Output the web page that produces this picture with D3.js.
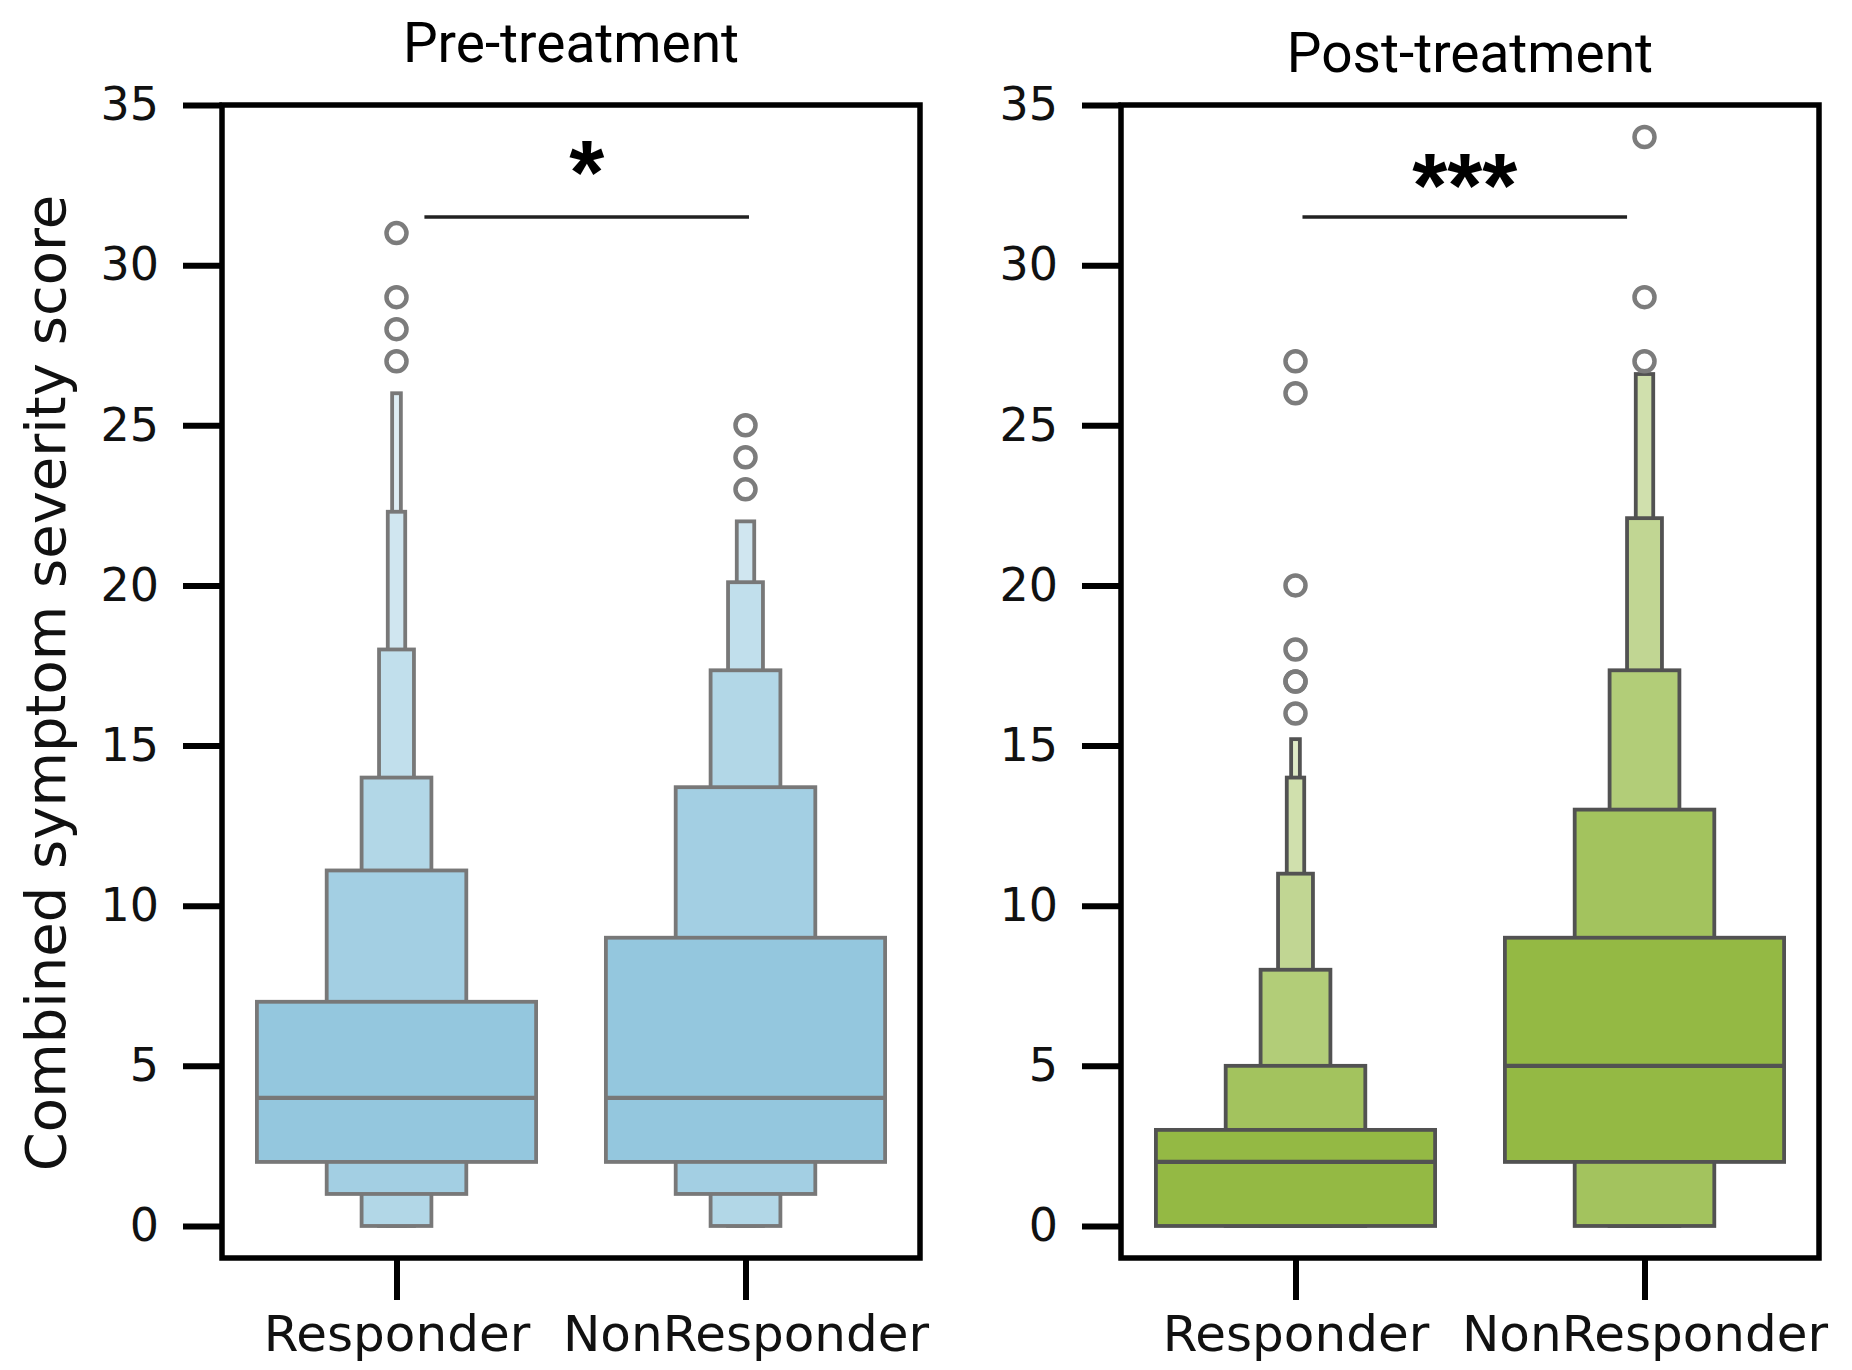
<!DOCTYPE html>
<html>
<head>
<meta charset="utf-8">
<script src="https://cdn.jsdelivr.net/npm/d3@7"></script>
<style>
  body { margin: 0; background: #fff; }
</style>
</head>
<body>
<div class="container"></div>
<script>
const categories = ["Responder", "NonResponder"];
const panelTitles = ["Pre-treatment", "Post-treatment"];
const yTicks = [0, 5, 10, 15, 20, 25, 30, 35];

// letter-value boxes [low, high], widest box first
const preResponderBoxes = [[2, 7], [1, 11.1], [0, 14], [0, 18], [0, 22.3], [0, 26]];
const preNonResponderBoxes = [[2, 9], [1, 13.7], [0, 17.35], [0, 20.1], [0, 22]];
const postResponderBoxes = [[0, 3], [0, 5], [0, 8], [0, 11], [0, 14], [0, 15.2]];
const postNonResponderBoxes = [[2, 9], [0, 13], [0, 17.35], [0, 22.1], [0, 26.6]];

const preMedians = [4, 4];
const postMedians = [2, 5];

const preOutliers = [[27, 28, 29, 31], [23, 24, 25]];
const postOutliers = [[16, 17, 17, 18, 20, 26, 27], [27, 29, 34]];

const sigLabels = ["*", "***"];
const sigBarValue = [31.5, 31.5];
const sigBarSpan = [[0.08, 1.01], [0.02, 0.95]];

const W = 1852, H = 1370;
const plotTop = 105, plotBottom = 1258;
const panelLeft = [222, 1121];
const panelWidth = 698;

const svg = d3.select(".container")
  .append("svg")
  .attr("width", W)
  .attr("height", H)
  .style("font-family", "'DejaVu Sans', sans-serif");

const y = d3.scaleLinear().domain([-1, 35]).range([plotBottom, plotTop]);

const panels = [
  {title: panelTitles[0], boxes: [preResponderBoxes, preNonResponderBoxes], medians: preMedians,
   outliers: preOutliers, base: "#94c7de", edge: "#787878", titleY: 62},
  {title: panelTitles[1], boxes: [postResponderBoxes, postNonResponderBoxes], medians: postMedians,
   outliers: postOutliers, base: "#94b944", edge: "#525252", titleY: 72}
];

panels.forEach((p, pi) => {
  const g = svg.append("g")
    .attr("transform", `translate(${panelLeft[pi]},0)`);

  const x = d3.scalePoint().domain(categories).range([0, panelWidth]).padding(0.5);
  const xi = d3.scaleLinear().domain([-0.5, 1.5]).range([0, panelWidth]);
  const step = x.step();

  // boxes, narrowest first so wider ones sit on top
  categories.forEach((c, ci) => {
    const boxes = p.boxes[ci];
    const cx = x(c);
    for (let k = boxes.length - 1; k >= 0; k--) {
      const w = 0.8 * step * Math.pow(2, -k);
      const fill = d3.interpolateRgb(p.base, "#ffffff")(k * 0.14);
      g.append("rect")
        .attr("x", cx - w / 2)
        .attr("y", y(boxes[k][1]))
        .attr("width", w)
        .attr("height", y(boxes[k][0]) - y(boxes[k][1]))
        .attr("fill", fill)
        .attr("stroke", p.edge)
        .attr("stroke-width", 3.8);
    }
    const w0 = 0.8 * step;
    g.append("line")
      .attr("x1", cx - w0 / 2).attr("x2", cx + w0 / 2)
      .attr("y1", y(p.medians[ci])).attr("y2", y(p.medians[ci]))
      .attr("stroke", p.edge)
      .attr("stroke-width", 4.2);

    g.selectAll(null)
      .data(p.outliers[ci])
      .enter()
      .append("circle")
      .attr("cx", cx)
      .attr("cy", d => y(d))
      .attr("r", 10)
      .attr("fill", "none")
      .attr("stroke", "#7c7c7c")
      .attr("stroke-width", 4.5);
  });

  // frame
  g.append("rect")
    .attr("x", 0).attr("y", plotTop)
    .attr("width", panelWidth).attr("height", plotBottom - plotTop)
    .attr("fill", "none")
    .attr("stroke", "#000")
    .attr("stroke-width", 5.5);

  const yAxis = d3.axisLeft(y).tickValues(yTicks).tickSize(39).tickPadding(24);
  const drawY = g.append("g").call(yAxis);
  drawY.select(".domain").remove();
  drawY.selectAll(".tick line").attr("stroke", "#000").attr("stroke-width", 6);
  drawY.selectAll(".tick text")
    .attr("fill", "#111")
    .style("font-family", "'DejaVu Sans', sans-serif")
    .style("font-size", "46px");

  const xAxis = d3.axisBottom(x).tickSize(42);
  const drawX = g.append("g")
    .attr("transform", `translate(0,${plotBottom})`)
    .call(xAxis);
  drawX.select(".domain").remove();
  drawX.selectAll(".tick line").attr("stroke", "#000").attr("stroke-width", 6);
  drawX.selectAll(".tick text")
    .attr("y", 93)
    .attr("dy", 0)
    .attr("fill", "#111")
    .style("font-family", "'DejaVu Sans', sans-serif")
    .style("font-size", "50px");

  // title
  g.append("text")
    .attr("x", panelWidth / 2)
    .attr("y", p.titleY)
    .attr("text-anchor", "middle")
    .style("font-family", "Roboto, sans-serif")
    .style("font-size", "55px")
    .attr("fill", "#000")
    .text(p.title);

  // significance bar
  const by = y(sigBarValue[pi]);
  g.append("line")
    .attr("x1", xi(sigBarSpan[pi][0])).attr("x2", xi(sigBarSpan[pi][1]))
    .attr("y1", by).attr("y2", by)
    .attr("stroke", "#222")
    .attr("stroke-width", 3.5);
  g.append("text")
    .attr("x", (xi(sigBarSpan[pi][0]) + xi(sigBarSpan[pi][1])) / 2)
    .attr("y", by + (pi === 0 ? -13 : 0))
    .attr("text-anchor", "middle")
    .style("font-family", "'Liberation Sans', sans-serif")
    .style("font-weight", "bold")
    .style("font-size", "90px")
    .attr("fill", "#000")
    .text(sigLabels[pi]);
});

svg.append("text")
  .attr("transform", "translate(65,683) rotate(-90)")
  .attr("text-anchor", "middle")
  .style("font-family", "'DejaVu Sans', sans-serif")
  .style("font-size", "56px")
  .attr("fill", "#111")
  .text("Combined symptom severity score");
</script>
</body>
</html>
